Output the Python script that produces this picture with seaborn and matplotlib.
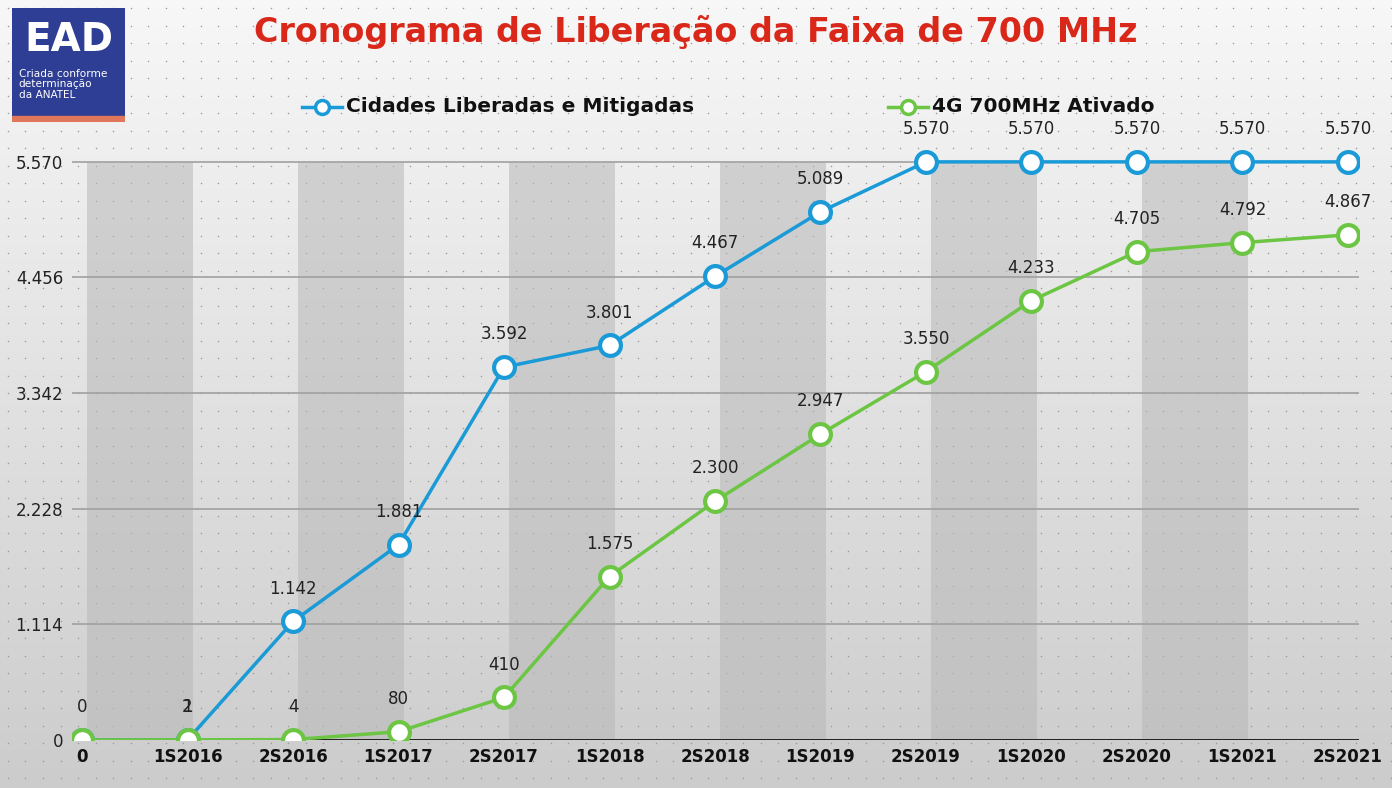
import numpy as np
import pandas as pd
import matplotlib
matplotlib.use("Agg")
import matplotlib.pyplot as plt
import seaborn as sns
from matplotlib.patches import Rectangle

periods = ["0", "1S2016", "2S2016", "1S2017", "2S2017", "1S2018", "2S2018",
           "1S2019", "2S2019", "1S2020", "2S2020", "1S2021", "2S2021"]
cidades = [0, 1, 1142, 1881, 3592, 3801, 4467, 5089, 5570, 5570, 5570, 5570, 5570]
ativado = [0, 2, 4, 80, 410, 1575, 2300, 2947, 3550, 4233, 4705, 4792, 4867]
yticks = [0, 1114, 2228, 3342, 4456, 5570]

def fmt(v):
    return f"{v:,}".replace(",", ".")

W, H = 1392, 788
fig = plt.figure(figsize=(W/100, H/100), dpi=100)
bg = fig.add_axes([0, 0, 1, 1], zorder=-10)
grad = np.linspace(0.97, 0.80, 200)[:, None] * np.ones((200, 1))
bg.imshow(np.dstack([grad]*3), aspect="auto", extent=[0, 1, 0, 1], origin="upper")
xs = np.arange(8, W, 17.5) / W
ys = np.arange(10, H, 17.5) / H
XX, YY = np.meshgrid(xs, ys)
bg.scatter(XX.ravel(), YY.ravel(), s=1.2, color="#9a9a9a", lw=0)
bg.set_xlim(0, 1); bg.set_ylim(0, 1); bg.axis("off")

blue = "#1a9ad6"
green = "#6cc644"
ax = fig.add_axes([71.5/W, 1-(740/H), (1358.5-71.5)/W, (740-138)/H])
ax.patch.set_alpha(0)
ax.set_xlim(-0.1, 12.1)
ax.set_ylim(0, 5800)
for i in range(0, 12, 2):
    ax.add_patch(Rectangle((i + 0.05, 0), 1.0, 5570, color="#b8b8b8", alpha=0.55, lw=0, zorder=0))
for t in yticks[1:]:
    ax.axhline(t, color="#a0a0a0", lw=1.2, zorder=1)
ax.plot([1, 12.1], [0, 0], color="#111111", lw=2, zorder=2)

df = pd.DataFrame({"x": list(range(13)) * 2,
                   "y": cidades + ativado,
                   "s": ["Cidades Liberadas e Mitigadas"] * 13 + ["4G 700MHz Ativado"] * 13})
sns.lineplot(data=df, x="x", y="y", hue="s", palette=[blue, green], ax=ax, lw=2.5,
             marker="o", markersize=15, markeredgewidth=3, zorder=4, legend=False)
for ln in ax.get_lines():
    if ln.get_marker() == "o":
        ln.set_markeredgecolor(ln.get_color())
        ln.set_markerfacecolor("white")
        if ln.get_color() == green:
            ln.set_zorder(5)
for i, v in enumerate(cidades):
    if i == 0:
        continue
    ax.text(i, v + 230, fmt(v), ha="center", va="bottom", fontsize=12, color="#222", zorder=6)
for i, v in enumerate(ativado):
    ax.text(i, v + 230, fmt(v), ha="center", va="bottom", fontsize=12, color="#222", zorder=6)

ax.set_xticks(range(13))
ax.set_xticklabels(periods, fontsize=12, fontweight="bold", color="#111")
ax.set_yticks(yticks)
ax.set_yticklabels([fmt(t) for t in yticks], fontsize=12, color="#222")
ax.tick_params(length=0, pad=6)
ax.set_xlabel(""); ax.set_ylabel("")
for s in ax.spines.values():
    s.set_visible(False)

fig.text(0.5, 0.96, "Cronograma de Liberação da Faixa de 700 MHz", ha="center", va="center",
         fontsize=24, fontweight="bold", color="#d9281a")
for x0, col, lab in [(302, blue, "Cidades Liberadas e Mitigadas"), (888, green, "4G 700MHz Ativado")]:
    fig.lines.append(plt.Line2D([x0/W, (x0+40)/W], [1-107/H]*2, transform=fig.transFigure,
                                color=col, lw=2.5))
    fig.lines.append(plt.Line2D([(x0+20)/W], [1-107/H], transform=fig.transFigure, color=col,
                                marker="o", ms=10, mfc="white", mec=col, mew=2.5))
    fig.text((x0+44)/W, 1-107/H, lab, fontsize=14.5, fontweight="bold", color="#111", va="center")

logo = fig.add_axes([12/W, 1-122/H, 113/W, 114/H])
logo.set_xlim(0, 1); logo.set_ylim(0, 1); logo.axis("off")
logo.add_patch(Rectangle((0, 0.04), 1, 0.96, color="#2d3e94"))
logo.add_patch(Rectangle((0, 0), 1, 0.05, color="#e0765a"))
logo.text(0.5, 0.72, "EAD", color="white", fontsize=28, fontweight="bold", ha="center", va="center")
logo.text(0.06, 0.33, "Criada conforme\ndeterminação\nda ANATEL", color="white", fontsize=7.6,
          ha="left", va="center", linespacing=1.1)

fig.savefig("out.png", dpi=100)
